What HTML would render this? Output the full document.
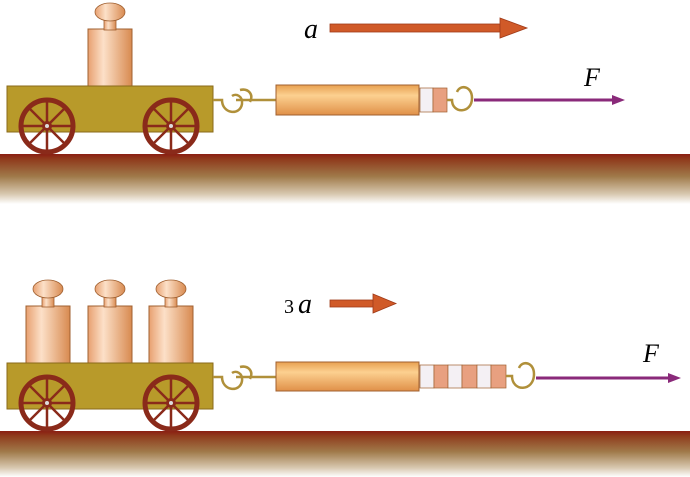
<!DOCTYPE html>
<html><head><meta charset="utf-8"><style>
html,body{margin:0;padding:0;background:#fff;}
svg{display:block;}
</style></head><body>
<svg width="690" height="477" viewBox="0 0 690 477" xmlns="http://www.w3.org/2000/svg">
<defs>
<linearGradient id="gnd" x1="0" y1="0" x2="0" y2="1">
<stop offset="0" stop-color="#8a1e12"/><stop offset="0.1" stop-color="#8f3a1c"/>
<stop offset="0.45" stop-color="#a07a4a"/><stop offset="0.8" stop-color="#d8c8b0"/><stop offset="1" stop-color="#fff"/>
</linearGradient>
<linearGradient id="wt" x1="0" y1="0" x2="1" y2="0">
<stop offset="0" stop-color="#e8a070"/><stop offset="0.35" stop-color="#fce0c8"/><stop offset="1" stop-color="#d88a50"/>
</linearGradient>
<linearGradient id="spr" x1="0" y1="0" x2="0" y2="1">
<stop offset="0" stop-color="#e8a050"/><stop offset="0.35" stop-color="#fcd090"/><stop offset="1" stop-color="#e09048"/>
</linearGradient>
<g id="wheel">
<circle r="26" fill="none" stroke="#8a2a1a" stroke-width="5"/>
<g stroke="#8a2a1a" stroke-width="2.5">
<line x1="-25" y1="0" x2="25" y2="0"/><line x1="0" y1="-25" x2="0" y2="25"/>
<line x1="-18" y1="-18" x2="18" y2="18"/><line x1="-18" y1="18" x2="18" y2="-18"/>
</g>
<circle r="5" fill="#8a2a1a"/><circle r="2" fill="#ddd"/>
</g>
<g id="weight">
<rect x="0" y="0" width="44" height="57" fill="url(#wt)" stroke="#a06030" stroke-width="1"/>
<rect x="16" y="-14" width="12" height="15" fill="url(#wt)" stroke="#a06030" stroke-width="0.8"/>
<ellipse cx="22" cy="-17" rx="15" ry="9" fill="url(#wt)" stroke="#a06030" stroke-width="0.8"/>
</g>
<g id="cart">
<rect x="7" y="0" width="206" height="46" fill="#b89a2a" stroke="#8a6a1a" stroke-width="1"/>
<use href="#wheel" x="47" y="40"/>
<use href="#wheel" x="171" y="40"/>
<path d="M213 14 L222 14 C222 28 240 30 242 18 C243 10 236 7 232 10" fill="none" stroke="#b0903a" stroke-width="2.5"/>
<path d="M240 4 C248 2 254 8 250 16 M236 14 L276 14" fill="none" stroke="#b0903a" stroke-width="2.5"/>
</g>
</defs>

<!-- top scene -->
<rect x="0" y="154" width="690" height="50" fill="url(#gnd)"/>
<use href="#weight" x="88" y="29"/>
<use href="#cart" x="0" y="86"/>
<rect x="276" y="85" width="143" height="30" fill="url(#spr)" stroke="#a06030"/>
<rect x="420" y="88" width="13" height="24" fill="#f4f0f4" stroke="#a06030" stroke-width="0.7"/>
<rect x="433" y="88" width="14" height="24" fill="#e8a080" stroke="#a06030" stroke-width="0.7"/>
<path d="M447 100 L452 100 C452 114 472 114 472 98 C472 86 460 84 457 92" fill="none" stroke="#b0903a" stroke-width="2.5"/>
<line x1="474" y1="100" x2="615" y2="100" stroke="#8a2a7a" stroke-width="3"/>
<path d="M612 95 L625 100 L612 105 Z" fill="#8a2a7a"/>
<text x="584" y="86" font-family="Liberation Serif,serif" font-style="italic" font-size="26">F</text>
<text x="304" y="38" font-family="Liberation Serif,serif" font-style="italic" font-size="28">a</text>
<rect x="330" y="24" width="172" height="8" fill="#d05a28" stroke="#a03a18" stroke-width="0.8"/>
<path d="M500 18 L527 28 L500 38 Z" fill="#d05a28" stroke="#a03a18" stroke-width="0.8"/>

<!-- bottom scene -->
<rect x="0" y="431" width="690" height="46" fill="url(#gnd)"/>
<use href="#weight" x="26" y="306"/>
<use href="#weight" x="88" y="306"/>
<use href="#weight" x="149" y="306"/>
<use href="#cart" x="0" y="363"/>
<rect x="276" y="362" width="143" height="29" fill="url(#spr)" stroke="#a06030"/>
<rect x="420" y="365" width="14" height="23" fill="#f4f0f4" stroke="#a06030" stroke-width="0.7"/>
<rect x="434" y="365" width="14" height="23" fill="#e8a080" stroke="#a06030" stroke-width="0.7"/>
<rect x="448" y="365" width="14" height="23" fill="#f4f0f4" stroke="#a06030" stroke-width="0.7"/>
<rect x="462" y="365" width="15" height="23" fill="#e8a080" stroke="#a06030" stroke-width="0.7"/>
<rect x="477" y="365" width="14" height="23" fill="#f4f0f4" stroke="#a06030" stroke-width="0.7"/>
<rect x="491" y="365" width="15" height="23" fill="#e8a080" stroke="#a06030" stroke-width="0.7"/>
<path d="M506 376 L512 376 C512 392 534 392 534 374 C534 362 522 360 519 368" fill="none" stroke="#b0903a" stroke-width="2.5"/>
<line x1="536" y1="378" x2="672" y2="378" stroke="#8a2a7a" stroke-width="3"/>
<path d="M668 373 L681 378 L668 383 Z" fill="#8a2a7a"/>
<text x="643" y="362" font-family="Liberation Serif,serif" font-style="italic" font-size="26">F</text>
<text x="284" y="313" font-family="Liberation Serif,serif" font-size="20">3</text>
<text x="298" y="313" font-family="Liberation Serif,serif" font-style="italic" font-size="28">a</text>
<rect x="330" y="300" width="45" height="7" fill="#d05a28" stroke="#a03a18" stroke-width="0.8"/>
<path d="M373 294 L396 303.5 L373 313 Z" fill="#d05a28" stroke="#a03a18" stroke-width="0.8"/>
</svg>
</body></html>
